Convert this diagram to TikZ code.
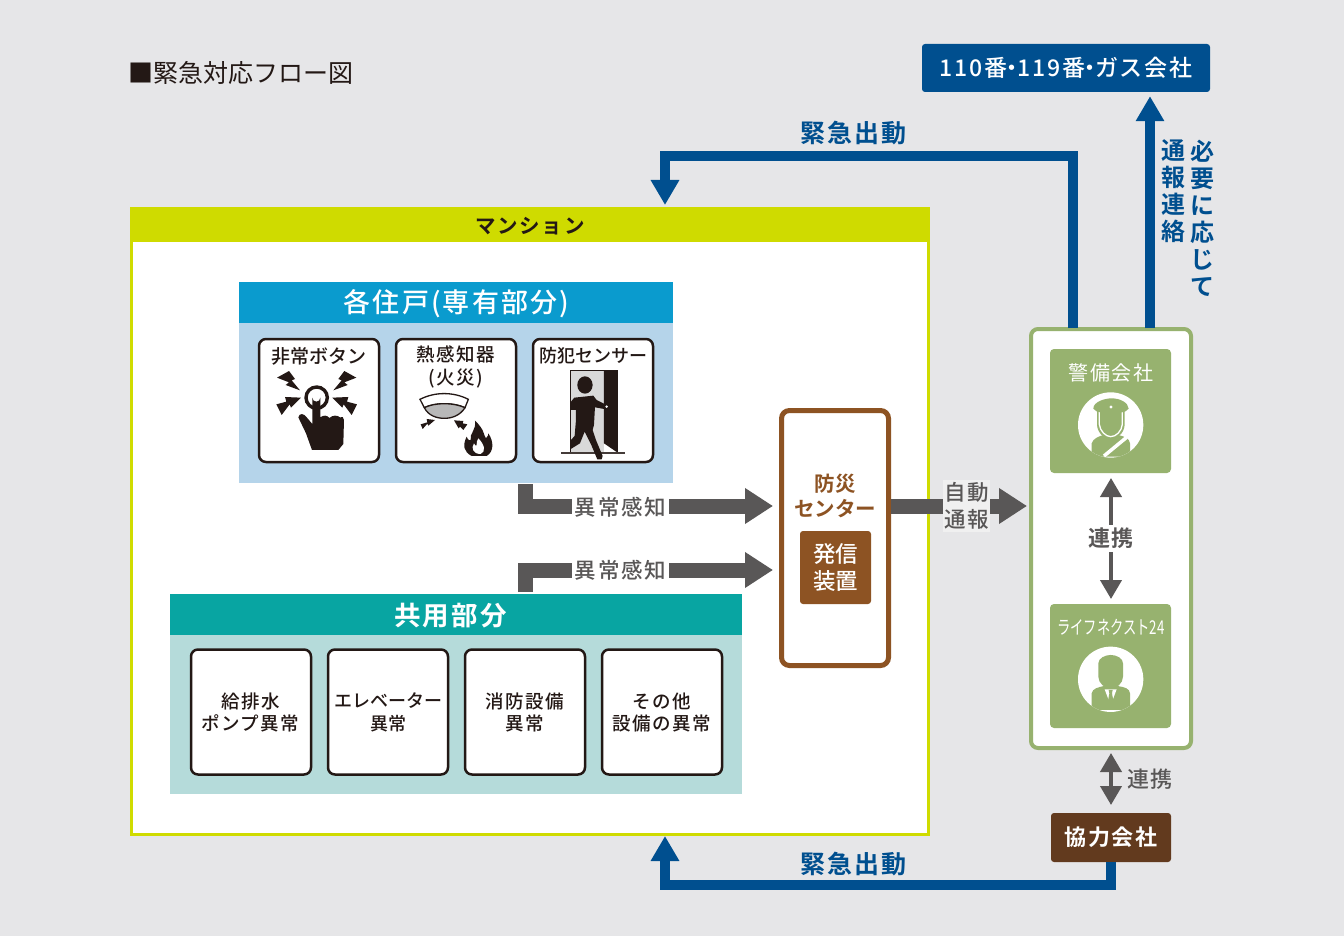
\documentclass[tikz,border=0pt]{standalone}
\usepackage{fontspec}
\usetikzlibrary{arrows.meta,calc}
\setmainfont{Noto Sans CJK JP Medium}[BoldFont=Noto Sans CJK JP Bold]
\newfontfamily\jps{Noto Sans CJK JP Medium}[LetterSpace=8,BoldFont=Noto Sans CJK JP Bold]
\newfontfamily\jpr{Noto Sans CJK JP}[LetterSpace=8]
\newfontfamily\jpn{Noto Sans CJK JP}
\newfontfamily\jpm{Noto Sans CJK JP Medium}
\newcommand\fsz[2]{\fontsize{#1pt}{#2pt}\selectfont}
\definecolor{bgc}{HTML}{E6E6E8}
\definecolor{yel}{HTML}{CFDB00}
\definecolor{blu}{HTML}{004F8F}
\definecolor{hdA}{HTML}{0A9BCE}
\definecolor{bdA}{HTML}{B5D4EA}
\definecolor{hdB}{HTML}{08A5A2}
\definecolor{bdB}{HTML}{B5DBDA}
\definecolor{brn}{HTML}{8D5323}
\definecolor{dbr}{HTML}{623A1E}
\definecolor{grn}{HTML}{97B26F}
\definecolor{gry}{HTML}{595757}
\definecolor{blk}{HTML}{231815}
\tikzset{
  card/.style={rectangle,draw=blk,fill=white,line width=2.5pt,rounded corners=7pt,inner sep=0pt,minimum width=120pt,minimum height=123pt},
  cardtxt/.style={align=center,text=blk,font=\fsz{18.5}{22.5}\jps,inner sep=0pt},
  cardkana/.style={align=center,text=blk,font=\fsz{18}{22.5}\jpm,inner sep=0pt},
  bluearrow/.style={draw=blu,line width=10pt,-{Triangle[length=25pt,width=27pt]}},
  greyarrow/.style={draw=gry,line width=15pt,-{Triangle[length=28pt,width=34pt]}},
  thinarrow/.style={draw=gry,line width=4pt,{Triangle[length=19pt,width=21pt]}-{Triangle[length=19pt,width=21pt]}},
  bluelab/.style={text=blu,font=\fsz{25}{27}\jps\bfseries,inner sep=0pt,align=center},
  detlab/.style={text=gry,font=\fsz{21.5}{24}\jps,inner sep=1pt,fill=white,align=center},
  whitelab/.style={text=white,font=\fsz{20}{24}\jpr,inner sep=0pt,align=center},
}
\begin{document}
\begin{tikzpicture}[x=1pt,y=-1pt]
\useasboundingbox (0,0) rectangle (1344,936);
\fill[bgc] (0,0) rectangle (1344,936);
% title
\node[anchor=west,inner sep=0pt,text=blk,font=\fsz{25}{27}\jpn] (title) at (128,72.5) {■緊急対応フロー図};
% mansion
\node[rectangle,draw=yel,fill=white,line width=3pt,minimum width=797pt,minimum height=626pt,inner sep=0pt] (mansion) at (530,521.5) {};
\fill[yel] (130,207) rectangle (930,242);
\node[text=blk,font=\fsz{20.5}{24}\jps\bfseries,inner sep=0pt] (mansiontxt) at (530,226) {マンション};
% private
\fill[bdA] (239,323) rectangle (673,483);
\node[rectangle,fill=hdA,minimum width=434pt,minimum height=41pt,inner sep=0pt] (priv) at (456,302.5) {};
\node[text=white,font=\fsz{27}{30}\jps,inner sep=0pt] (privt) at (456.5,304) {各住戸(専有部分)};
\node[card] (c1) at (319,400.5) {};
\node[card] (c2) at (456,400.5) {};
\node[card] (c3) at (593,400.5) {};
\node[cardkana,font=\fsz{19}{22.5}\jpm] (c1t) at (319,356) {非常ボタン};
\node[cardtxt] (c2t) at (456,367) {熱感知器\\(火災)};
\node[cardkana] (c3t) at (593,356) {防犯センサー};
% bolts in crop coordinates
\begin{scope}[shift={(265,365)},x=0.3333pt,y=-0.3333pt]
  \fill[blk] (36,38)--(72,18)--(90,42)--(80,46)--(105,76)--(62,60)--(72,52)--cycle;
  \fill[blk] (34,118)--(64,110)--(60,96)--(108,98)--(78,128)--(74,118)--(50,150)--cycle;
  \fill[blk] (274,38)--(238,18)--(220,42)--(230,46)--(205,76)--(248,60)--(238,52)--cycle;
  \fill[blk] (276,118)--(246,110)--(250,96)--(202,98)--(232,128)--(236,118)--(260,150)--cycle;
  \draw[blk,line width=3.4pt] (155,98) circle[radius=32];
\end{scope}
\begin{scope}[shift={(410,385)},x=0.3333pt,y=-0.3333pt]
  \fill[blk] (32,118)--(52,112)--(50,102)--(75,105)--(55,122)--(52,116)--(38,132)--cycle;
  \fill[blk] (132,106)--(160,108)--(158,115)--(172,118)--(160,135)--(150,125)--(146,130)--cycle;
  \draw[blk,line width=1.3pt,fill=white] (30,43) .. controls (75,20) and (130,20) .. (175,43) -- (165,68) .. controls (130,52) and (75,52) .. (43,68) -- cycle;
  \draw[blk,line width=1.3pt,fill=black!28] (43,68) .. controls (75,52) and (130,52) .. (165,68) .. controls (150,92) and (125,100) .. (103,100) .. controls (80,100) and (55,92) .. (43,68) -- cycle;
\end{scope}
\begin{scope}[shift={(240,330)},x=0.3333pt,y=-0.3333pt]
  % hand
  \fill[blk] (217,203) arc[start angle=180,end angle=0,radius=12] -- (241,262)
    .. controls (250,255) and (262,255) .. (268,264)
    .. controls (278,255) and (292,255) .. (300,262)
    .. controls (306,258) and (312,262) .. (312,270)
    -- (310,342) -- (295,360) -- (216,360) -- (198,310) -- (175,262)
    .. controls (178,248) and (192,250) .. (200,262) -- (217,282) -- cycle;
  % flame
  \fill[blk] (705,272) .. controls (735,300) and (730,315) .. (738,325) .. controls (745,320) and (745,312) .. (745,310)
    .. controls (762,335) and (762,365) .. (740,378) -- (695,378) .. controls (670,365) and (668,345) .. (680,320)
    .. controls (684,332) and (690,332) .. (692,330) .. controls (688,310) and (710,300) .. (705,272) -- cycle;
  \fill[white] (715,325) .. controls (735,345) and (738,365) .. (722,372) .. controls (700,372) and (692,355) .. (702,340) .. controls (704,348) and (708,348) .. (710,346) .. controls (708,340) and (712,330) .. (715,325) -- cycle;
  % door
  \fill[black!15] (991,121) rectangle (1092,368);
  \draw[blk,line width=1.2pt] (991,121) rectangle (1133,368);
  \fill[blk] (1092,121) -- (1133,121) -- (1133,368) -- (1092,340) -- cycle;
  \draw[blk!85,line width=1.6pt] (964,369) -- (1156,369);
  \fill[blk] (1035,165) ellipse[x radius=23,y radius=26];
  \fill[blk] (1003,203) -- (1060,197) -- (1070,210) -- (1098,224) -- (1098,238) -- (1065,232) -- (1062,285) -- (1058,300)
    -- (1068,330) -- (1088,378) -- (1085,388) -- (1072,388) -- (1054,345) -- (1034,305) -- (1020,340) -- (991,358) -- (991,332) -- (1004,318) -- (1008,270) -- (1008,240) -- (993,240) -- (993,215) -- cycle;
  \fill[white] (1100,230) circle[radius=4];
\end{scope}
% common
\fill[bdB] (170,635) rectangle (742,794);
\node[rectangle,fill=hdB,minimum width=572pt,minimum height=41pt,inner sep=0pt] (pub) at (456,614.5) {};
\node[text=white,font=\fsz{26.5}{30}\jps\bfseries,inner sep=0pt] (pubt) at (450.5,615.5) {共用部分};
\node[card,minimum height=125pt] (d1) at (251,712) {};
\node[card,minimum height=125pt] (d2) at (388,712) {};
\node[card,minimum height=125pt] (d3) at (525,712) {};
\node[card,minimum height=125pt] (d4) at (662,712) {};
\node[cardtxt] (d1t) at (250.5,712.5) {給排水\\ポンプ異常};
\node[cardkana] (d2t) at (388,712.5) {エレベーター\\異常};
\node[cardtxt] (d3t) at (525,712.5) {消防設備\\異常};
\node[cardtxt] (d4t) at (662,712.5) {その他\\設備の異常};
% center
\node[rectangle,draw=brn,fill=white,line width=5pt,rounded corners=8pt,minimum width=107pt,minimum height=255pt,inner sep=0pt] (center) at (835,538) {};
\node[text=brn,font=\fsz{20.5}{25}\bfseries,align=center,inner sep=0pt] (centert) at (835,495.5) {防災\\センター};
\node[rectangle,fill=brn,rounded corners=3pt,minimum width=71pt,minimum height=73pt,inner sep=0pt,text=white,font=\fsz{22.5}{27},align=center] (hassin) at (835.5,567.5) {発信\\装置};
% green group
\node[rectangle,draw=grn,fill=white,line width=4pt,rounded corners=7pt,minimum width=160pt,minimum height=419pt,inner sep=0pt] (grp) at (1111,538.5) {};
\node[rectangle,fill=grn,rounded corners=4pt,minimum width=121pt,minimum height=124pt,inner sep=0pt] (sec) at (1110.5,411) {};
\node[rectangle,fill=grn,rounded corners=4pt,minimum width=121pt,minimum height=124pt,inner sep=0pt] (life) at (1110.5,666) {};
\node[whitelab] (sect) at (1111,372.5) {警備会社};
\node[whitelab,font=\fsz{19}{24}\jpn] (lifet) at (1111,627) {\scalebox{0.7}[1]{ライフネクスト24}};
\begin{scope}[shift={(1030,330)},x=0.3333pt,y=-0.3333pt]
  % guard
  \fill[white] (242,285) circle[radius=98];
  \begin{scope}
    \clip (242,285) circle[radius=98];
    \fill[grn] (185,380) -- (185,340) .. controls (190,325) and (205,320) .. (220,315) -- (265,315) .. controls (285,320) and (298,325) .. (300,340) -- (300,380) -- cycle;
    \draw[white,line width=3.5pt] (222,378) -- (290,322);
  \end{scope}
  \fill[grn] (201,240) -- (284,240) -- (284,285) .. controls (282,310) and (262,327) .. (242,327) .. controls (223,327) and (203,310) .. (201,285) -- cycle;
  \draw[white,line width=1.3pt] (208,245) -- (208,283) .. controls (210,304) and (228,320) .. (242,320) .. controls (258,320) and (275,304) .. (277,283) -- (277,245);
  \fill[grn] (190,236) .. controls (190,215) and (225,205) .. (245,205) .. controls (270,205) and (295,218) .. (296,236) .. controls (285,250) and (270,248) .. (243,248) .. controls (220,248) and (200,250) .. (190,236) -- cycle;
  \fill[white] (243,231) circle[radius=5];
  % person
  \fill[white] (242,1048) circle[radius=98];
  \begin{scope}
    \clip (242,1048) circle[radius=98];
    \fill[grn] (185,1140) -- (185,1090) .. controls (188,1075) and (205,1072) .. (222,1068) -- (262,1068) .. controls (285,1072) and (298,1075) .. (300,1090) -- (300,1140) -- cycle;
    \fill[white] (224,1078) -- (260,1078) -- (248,1110) -- (236,1110) -- cycle;
    \fill[grn] (236,1080) -- (248,1080) -- (246,1090) -- (250,1112) -- (242,1122) -- (234,1112) -- (238,1090) -- cycle;
  \end{scope}
  \fill[grn] (205,1000) .. controls (205,985) and (225,975) .. (242,975) .. controls (260,975) and (279,985) .. (279,1000) -- (279,1040) .. controls (279,1060) and (260,1076) .. (242,1076) .. controls (225,1076) and (205,1060) .. (205,1040) -- cycle;
\end{scope}
% partner boxes
\node[rectangle,fill=blu,rounded corners=3pt,minimum width=288pt,minimum height=48pt,inner sep=0pt,text=white,font=\fsz{23}{26}\jps] (ext) at (1066,68) {\raisebox{-1pt}{110番\hspace{-6.5pt}・\hspace{-6.5pt}119番\hspace{-6.5pt}・\hspace{-6.5pt}ガス会社}};
\node[rectangle,fill=dbr,rounded corners=3pt,minimum width=120pt,minimum height=49pt,inner sep=0pt,text=white,font=\fsz{22}{26}\jps\bfseries] (kyo) at (1111,837.5) {協力会社};
% connectors
\coordinate (m1) at (665,207);
\coordinate (m2) at (665,836);
\coordinate (g1) at (1073,328);
\coordinate (g2) at (1150,328);
\coordinate (a1) at (525,484);
\coordinate (a2) at (525,592);
\coordinate (t1) at (773,506);
\coordinate (t2) at (773,570);
\coordinate (t3) at (1027,506);
\draw[bluearrow] (g1) |- (665,156) -- ($(m1)+(0,-2)$);
\draw[bluearrow] (g2) -- ($(ext.south -| g2)+(0,4)$);
\draw[bluearrow] (kyo.south) |- (665,885) -- (m2);
\draw[greyarrow] (a1) |- (t1);
\draw[greyarrow] (a2) |- (t2);
\draw[greyarrow] (center.east |- t3) -- (t3);
\draw[thinarrow] (1111,478) -- (1111,599);
\draw[thinarrow] (1111,753) -- (1111,805);
% labels
\node[bluelab] (l1) at (853,133) {緊急出動};
\node[bluelab] (l2) at (853,864) {緊急出動};
\node[bluelab,font=\fsz{24}{27}\bfseries] (l3) at (1173,191) {通\\報\\連\\絡};
\node[bluelab,font=\fsz{24}{27}\bfseries] (l4) at (1202,218) {必\\要\\に\\応\\じ\\て};
\node[detlab,minimum width=97pt,inner sep=0pt] (l5) at (620.5,507) {異常感知};
\node[detlab,minimum width=97pt,inner sep=0pt] (l6) at (620.5,570) {異常感知};
\node[detlab,fill=black!6,minimum width=47pt,minimum height=52pt,font=\fsz{21.5}{26.5}\jps,inner sep=0pt] (l7) at (966.5,506) {自動\\通報};
\node[detlab,minimum height=27pt,font=\fsz{22}{24}\jps\bfseries] (l8) at (1111,538) {連携};
\node[detlab,fill=none,font=\fsz{22}{24}\jps] (l9) at (1150,779) {連携};
\end{tikzpicture}
\end{document}
